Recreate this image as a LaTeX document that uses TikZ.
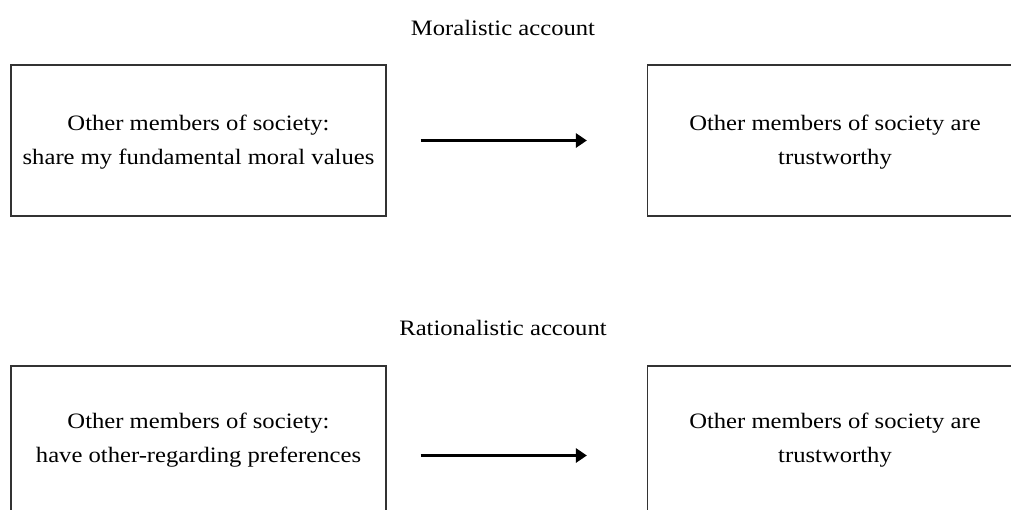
\documentclass[tikz,border=0pt]{standalone}
\usepackage{fontspec}
\setmainfont{Liberation Serif}[FakeStretch=1.12]
\usetikzlibrary{arrows.meta}
\begin{document}
\begin{tikzpicture}[x=1pt,y=-1pt,
  box/.style={draw=black!80, line width=1.2pt, minimum width=375pt, align=center,
    inner sep=0pt, font=\fontsize{22}{34}\selectfont},
  ttl/.style={anchor=base, inner sep=0pt, font=\fontsize{22}{34}\selectfont},
  arr/.style={-{Triangle[length=11pt,width=14pt]}, line width=3pt, black}]
\useasboundingbox (0,0) rectangle (1011,509);
\clip (0,0) rectangle (1011,509);
\node[ttl] (mt) at (503,35) {Moralistic account};
\node[box, minimum height=151pt] (m1) at (198.5,140.5) {\raisebox{-3pt}{\begin{tabular}{@{}c@{}}Other members of society:\\[-0.5pt]share my fundamental moral values\end{tabular}}};
\node[box, minimum height=151pt] (m2) at (835,140.5) {\raisebox{-3pt}{\begin{tabular}{@{}c@{}}Other members of society are\\[-0.5pt]trustworthy\end{tabular}}};
\draw[arr, shorten <=34pt, shorten >=60pt] (m1.east) -- (m2.west);
\node[ttl] (rt) at (503,335) {Rationalistic account};
\node[box, minimum height=145pt] (r1) at (198.5,438.5) {\raisebox{-3pt}{\begin{tabular}{@{}c@{}}Other members of society:\\[-0.5pt]have other-regarding preferences\end{tabular}}};
\node[box, minimum height=145pt] (r2) at (835,438.5) {\raisebox{-3pt}{\begin{tabular}{@{}c@{}}Other members of society are\\[-0.5pt]trustworthy\end{tabular}}};
\draw[arr, shorten <=34pt, shorten >=60pt] ([yshift=-17pt]r1.east) -- ([yshift=-17pt]r2.west);
\end{tikzpicture}
\end{document}
